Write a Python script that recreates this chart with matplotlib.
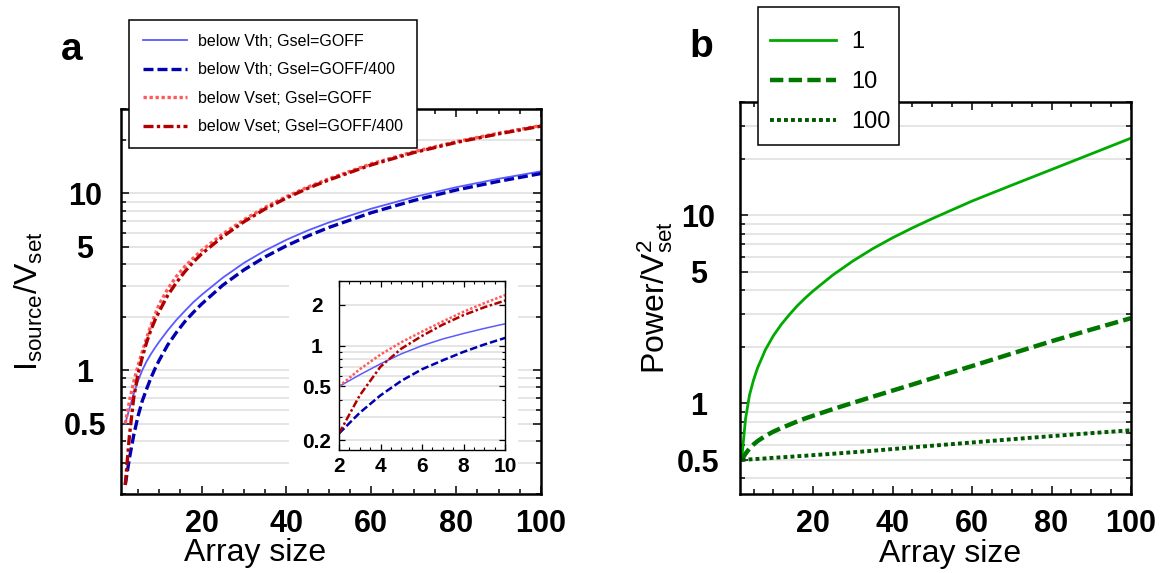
import matplotlib
matplotlib.use("Agg")
import matplotlib.pyplot as plt
from matplotlib.patches import Rectangle
from matplotlib.ticker import FixedLocator, NullFormatter, MultipleLocator

plt.rcParams['font.family'] = ['Liberation Sans', 'DejaVu Sans']
plt.rcParams['mathtext.fontset'] = 'custom'
plt.rcParams['mathtext.rm'] = 'Liberation Sans'
plt.rcParams['mathtext.it'] = 'Liberation Sans:italic'
plt.rcParams['mathtext.bf'] = 'Liberation Sans:bold'
plt.rcParams['mathtext.default'] = 'regular'

# ---- panel a : source current vs array size ----
size_a = [2, 3, 4, 5, 6, 7, 8, 9, 10, 12, 14, 16, 18, 20, 25, 30, 35, 40, 45, 50,
          60, 70, 80, 90, 100]
vth_goff = [0.50, 0.61, 0.735, 0.87, 1.00, 1.12, 1.23, 1.34, 1.45, 1.68, 1.92, 2.16,
            2.42, 2.67, 3.34, 4.05, 4.76, 5.47, 6.17, 6.85, 8.20, 9.53, 10.84, 12.1, 13.33]
vth_goff400 = [0.225, 0.32, 0.43, 0.55, 0.67, 0.78, 0.90, 1.02, 1.14, 1.39, 1.63, 1.88,
               2.12, 2.37, 3.03, 3.70, 4.38, 5.06, 5.74, 6.42, 7.78, 9.12, 10.45, 11.7, 12.95]
vset_goff = [0.50, 0.67, 0.86, 1.06, 1.27, 1.51, 1.78, 2.06, 2.36, 2.88, 3.38, 3.85,
             4.30, 4.76, 5.90, 7.10, 8.35, 9.60, 10.85, 12.1, 14.7, 17.2, 19.6, 21.9, 24.2]
vset_goff400 = [0.225, 0.43, 0.70, 0.95, 1.18, 1.43, 1.68, 1.92, 2.15, 2.65, 3.12, 3.60,
                4.08, 4.55, 5.70, 6.92, 8.18, 9.42, 10.68, 11.92, 14.5, 17.0, 19.4, 21.7, 24.0]
labels_a = ['below Vth; Gsel=GOFF', 'below Vth; Gsel=GOFF/400',
            'below Vset; Gsel=GOFF', 'below Vset; Gsel=GOFF/400']

# ---- panel b : power vs array size ----
size_b = [2, 3, 4, 5, 6, 8, 10, 12, 14, 16, 18, 20, 25, 30, 35, 40, 45, 50,
          60, 70, 80, 90, 100]
power_1 = [0.50, 0.83, 1.11, 1.33, 1.54, 1.93, 2.29, 2.63, 2.96, 3.30, 3.63, 3.96,
           4.82, 5.71, 6.64, 7.59, 8.57, 9.60, 11.9, 14.45, 17.5, 21.2, 25.7]
power_10 = [0.50, 0.541, 0.576, 0.605, 0.63, 0.672, 0.708, 0.74, 0.77, 0.802, 0.832, 0.86,
            0.933, 1.007, 1.086, 1.17, 1.26, 1.36, 1.58, 1.84, 2.14, 2.47, 2.84]
power_100 = [0.50, 0.502, 0.504, 0.505, 0.507, 0.51, 0.514, 0.517, 0.52, 0.524, 0.527, 0.531,
             0.54, 0.55, 0.56, 0.572, 0.584, 0.596, 0.62, 0.645, 0.67, 0.695, 0.72]
labels_b = ['1', '10', '100']

W, H = 1176, 573
fig = plt.figure(figsize=(W / 100, H / 100), dpi=100)


def fx(px):
    return px / W


def fy(py):
    return 1 - py / H


def style_axes(ax, majors, minors, ylabels, pad, size):
    ax.set_yscale('log')
    ax.yaxis.set_major_locator(FixedLocator(majors))
    ax.yaxis.set_minor_locator(FixedLocator(minors))
    ax.yaxis.set_minor_formatter(NullFormatter())
    ax.set_yticklabels(ylabels)
    ax.yaxis.grid(True, which='both', color='#e3e3e3', lw=1.3)
    ax.set_axisbelow(True)
    ax.tick_params(which='both', direction='in', top=True, right=True)
    ax.tick_params(axis='y', which='major', pad=pad)
    for lbl in ax.get_yticklabels():
        lbl.set_ha('center')
    for lbl in ax.get_xticklabels() + ax.get_yticklabels():
        lbl.set_fontweight('bold')
        lbl.set_fontsize(size)


# panel a
ax1 = fig.add_axes([fx(121), fy(494), fx(541) - fx(121), fy(109) - fy(494)])
ax1.plot(size_a, vth_goff, color='#5a5aff', lw=1.3, label=labels_a[0])
ax1.plot(size_a, vth_goff400, color='#0000b0', lw=2.4, ls=(0, (3, 1.2)), label=labels_a[1])
ax1.plot(size_a, vset_goff, color='#ff5a5a', lw=2.4, ls=(0, (1, 0.8)), label=labels_a[2])
ax1.plot(size_a, vset_goff400, color='#b00000', lw=2.4, ls=(0, (3, 1, 1, 1)), label=labels_a[3])
ax1.set_xlim(1, 100)
ax1.set_ylim(0.2, 30)
ax1.xaxis.set_major_locator(FixedLocator([20, 40, 60, 80, 100]))
ax1.xaxis.set_minor_locator(MultipleLocator(5))
style_axes(ax1, [0.5, 1, 5, 10],
           [0.2, 0.3, 0.4, 0.6, 0.7, 0.8, 0.9, 2, 3, 4, 6, 7, 8, 9, 20, 30],
           ['0.5', '1', '5', '10'], 26, 22)
ax1.tick_params(axis='x', which='major', pad=11)
ax1.tick_params(which='major', length=6, width=1.1)
ax1.tick_params(which='minor', length=3.5, width=1.1)
for s in ax1.spines.values():
    s.set_linewidth(1.8)
ax1.set_xlabel('Array size', fontsize=23, labelpad=2)
ax1.xaxis.set_label_coords(0.32, -0.115)
ax1.set_ylabel(r'$I_{source}/V_{set}$', fontsize=23)
ax1.yaxis.set_label_coords(-0.18, 0.5)
leg1 = fig.legend(loc='upper left', bbox_to_anchor=(fx(129), fy(20)), fontsize=11.5,
                  frameon=True, fancybox=False, edgecolor='black', framealpha=1,
                  handlelength=2.8, handletextpad=0.7, labelspacing=0.85,
                  borderpad=0.85, borderaxespad=0,
                  handles=ax1.get_lines(), labels=labels_a)
leg1.get_frame().set_linewidth(1.1)

# white area behind the inset and its labels
fig.add_artist(Rectangle((fx(289), fy(478)), fx(518) - fx(289), fy(272) - fy(478),
                         transform=fig.transFigure, facecolor='white',
                         edgecolor='none', zorder=0.5))

# inset of panel a
ax_in = fig.add_axes([fx(339), fy(450), fx(505) - fx(339), fy(281) - fy(450)])
ax_in.set_zorder(1)
ax_in.plot(size_a, vth_goff, color='#5a5aff', lw=1.1)
ax_in.plot(size_a, vth_goff400, color='#0000b0', lw=1.8, ls=(0, (3, 1.2)))
ax_in.plot(size_a, vset_goff, color='#ff5a5a', lw=1.8, ls=(0, (1, 0.8)))
ax_in.plot(size_a, vset_goff400, color='#b00000', lw=1.8, ls=(0, (3, 1, 1, 1)))
ax_in.set_xlim(2, 10)
ax_in.set_ylim(0.17, 3)
ax_in.xaxis.set_major_locator(FixedLocator([2, 4, 6, 8, 10]))
ax_in.xaxis.set_minor_locator(MultipleLocator(0.5))
style_axes(ax_in, [0.2, 0.5, 1, 2], [0.3, 0.4, 0.6, 0.7, 0.8, 0.9, 3],
           ['0.2', '0.5', '1', '2'], 16, 15)
ax_in.tick_params(axis='x', which='major', pad=5)
ax_in.tick_params(which='major', length=4, width=0.9)
ax_in.tick_params(which='minor', length=2, width=0.8)
for s in ax_in.spines.values():
    s.set_linewidth(1.0)

# panel b
ax2 = fig.add_axes([fx(740), fy(494), fx(1131) - fx(740), fy(102) - fy(494)])
ax2.plot(size_b, power_1, color='#00aa00', lw=2.0, label=labels_b[0])
ax2.plot(size_b, power_10, color='#007800', lw=3.2, ls=(0, (3, 1.2)), label=labels_b[1])
ax2.plot(size_b, power_100, color='#005800', lw=2.8, ls=(0, (1, 0.8)), label=labels_b[2])
ax2.set_xlim(1.6, 100)
ax2.set_ylim(0.33, 40)
ax2.xaxis.set_major_locator(FixedLocator([20, 40, 60, 80, 100]))
ax2.xaxis.set_minor_locator(MultipleLocator(5))
style_axes(ax2, [0.5, 1, 5, 10],
           [0.4, 0.6, 0.7, 0.8, 0.9, 2, 3, 4, 6, 7, 8, 9, 20, 30, 40],
           ['0.5', '1', '5', '10'], 30, 22)
ax2.tick_params(axis='x', which='major', pad=11)
ax2.tick_params(which='major', length=6, width=1.1)
ax2.tick_params(which='minor', length=3.5, width=1.1)
for s in ax2.spines.values():
    s.set_linewidth(1.8)
ax2.set_xlabel('Array size', fontsize=23, labelpad=2)
ax2.xaxis.set_label_coords(0.537, -0.115)
ax2.set_ylabel(r'Power/V$^2_{set}$', fontsize=23)
ax2.yaxis.set_label_coords(-0.166, 0.5)

# legend box of panel b drawn separately (taller than the default padding gives)
fig.add_artist(Rectangle((fx(758), fy(145)), fx(899) - fx(758), fy(7) - fy(145),
                         transform=fig.transFigure, facecolor='white',
                         edgecolor='black', lw=1.1, zorder=2))
fig.legend(loc='center left', bbox_to_anchor=(fx(770), fy(82)), fontsize=17,
           frameon=False, handlelength=2.8, handletextpad=0.65, labelspacing=0.76,
           borderpad=0, borderaxespad=0,
           handles=ax2.get_lines(), labels=labels_b)

fig.text(fx(72), fy(50), 'a', fontsize=28, fontweight='bold', ha='center', va='center')
fig.text(fx(701), fy(47), 'b', fontsize=28, fontweight='bold', ha='center', va='center')

fig.savefig('out.png', dpi=100)
